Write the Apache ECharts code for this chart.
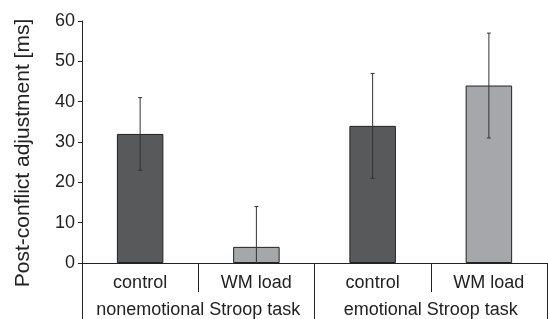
<!DOCTYPE html>
<html lang="en">
<head>
    <meta charset="UTF-8">
    <title>Post-conflict adjustment</title>
    <style>
        body { margin: 0; background: #fff; }
    </style>
</head>
<body>
<script src="https://cdn.jsdelivr.net/npm/echarts@6/dist/echarts.min.js"></script>
<div id="main" style="width: 548px;height:319px;"></div>
<script>
    var categories = ['control', 'WM load', 'control', 'WM load'];
    var groups = ['nonemotional Stroop task', 'emotional Stroop task'];
    var means = [32, 4, 34, 44];
    var errors = [9, 10, 13, 13];
    var barColors = ['#58595b', '#a6a7aa', '#58595b', '#a6a7aa'];

    var chart = echarts.init(document.getElementById('main'));

    var errorData = means.map(function (m, i) {
        return [i, m - errors[i], m + errors[i]];
    });

    var option = {
        animation: false,
        grid: { left: 82, right: 1, top: 21, bottom: 56 },
        xAxis: [
            {
                type: 'category',
                data: categories,
                axisLine: { lineStyle: { color: '#222', width: 1 } },
                axisTick: { show: true, interval: 0, length: 29, lineStyle: { color: '#222' } },
                axisLabel: { interval: 0, hideOverlap: false, color: '#222', fontSize: 18, fontFamily: 'Liberation Sans', margin: 11 }
            },
            {
                type: 'category',
                data: groups,
                position: 'bottom',
                axisLine: { show: false },
                axisTick: { show: true, interval: 0, length: 56, lineStyle: { color: '#222' } },
                axisLabel: { interval: 0, hideOverlap: false, color: '#222', fontSize: 18, fontFamily: 'Liberation Sans', margin: 38 }
            }
        ],
        yAxis: {
            type: 'value',
            min: 0,
            max: 60,
            interval: 10,
            name: 'Post-conflict adjustment [ms]',
            nameLocation: 'middle',
            nameGap: 48,
            nameTextStyle: { color: '#222', fontSize: 21, fontFamily: 'Liberation Sans', padding: [0, 22, 0, 0] },
            axisLine: { show: true, lineStyle: { color: '#222' } },
            axisTick: { show: true, length: 4, lineStyle: { color: '#222' } },
            axisLabel: { color: '#222', fontSize: 18, fontFamily: 'Liberation Sans', margin: 7 },
            splitLine: { show: false }
        },
        series: [
            {
                type: 'bar',
                xAxisIndex: 0,
                barWidth: '40%',
                data: means.map(function (v, i) {
                    return { value: v, itemStyle: { color: barColors[i] } };
                }),
                itemStyle: { borderColor: '#222', borderWidth: 1 }
            },
            {
                type: 'custom',
                xAxisIndex: 0,
                clip: true,
                data: errorData,
                z: 10,
                renderItem: function (params, api) {
                    var x = api.value(0);
                    var lo = api.coord([x, Math.max(api.value(1), 0)]);
                    var hi = api.coord([x, api.value(2)]);
                    var w = 2;
                    var style = { stroke: '#333', lineWidth: 1 };
                    return {
                        type: 'group',
                        children: [
                            { type: 'line', shape: { x1: hi[0], y1: hi[1], x2: lo[0], y2: lo[1] }, style: style },
                            { type: 'line', shape: { x1: hi[0] - w, y1: hi[1], x2: hi[0] + w, y2: hi[1] }, style: style },
                            { type: 'line', shape: { x1: lo[0] - w, y1: lo[1], x2: lo[0] + w, y2: lo[1] }, style: style }
                        ]
                    };
                }
            }
        ]
    };

    chart.setOption(option);
</script>
</body>
</html>
